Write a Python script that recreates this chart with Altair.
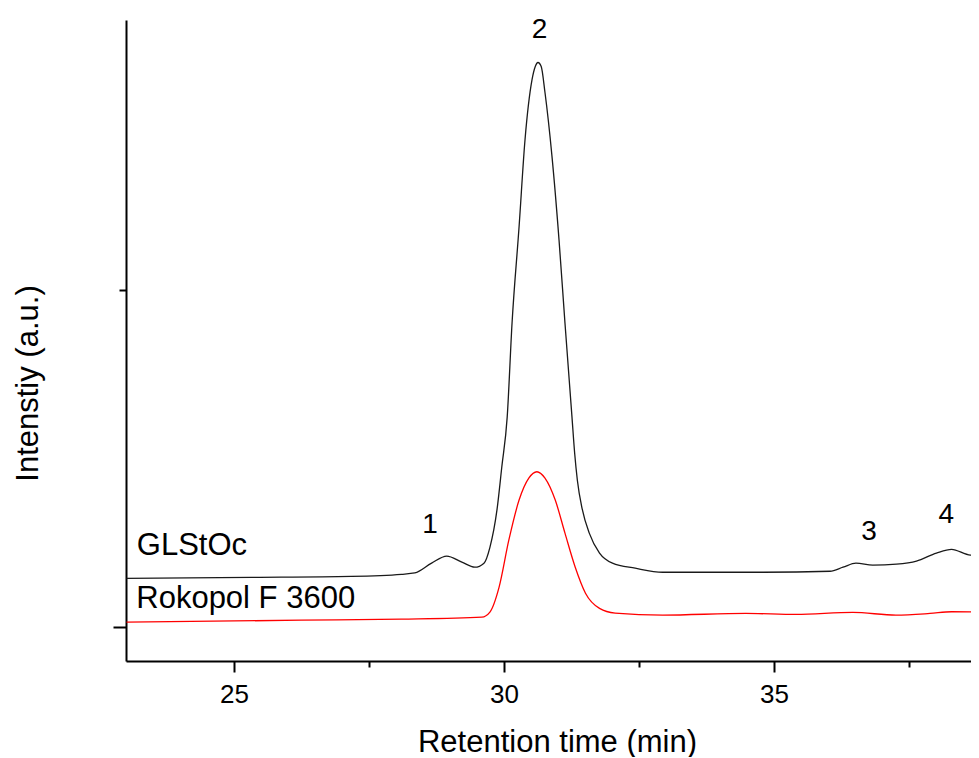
import altair as alt
import pandas as pd

# ---- data ----
glstoc_time = [23.01, 25.32, 27.17, 28.10, 28.35, 28.66, 28.94, 29.22, 29.46, 29.63, 29.74, 29.87,
               29.96, 30.06, 30.15, 30.28, 30.39, 30.52, 30.58, 30.63, 30.69, 30.76, 30.89, 31.02,
               31.13, 31.26, 31.31, 31.36, 31.45, 31.58, 31.77, 32.01, 32.43, 32.94, 34.18, 34.80, 36.04,
               36.28, 36.52, 36.83, 37.27, 37.64, 38.01, 38.29, 38.64, 38.87]
glstoc_int = [0.145, 0.148, 0.151, 0.157, 0.161, 0.190, 0.211, 0.193, 0.178, 0.190, 0.237, 0.347,
              0.475, 0.623, 0.902, 1.187, 1.445, 1.623, 1.662, 1.674, 1.662, 1.585, 1.395, 1.148,
              0.902, 0.623, 0.515, 0.435, 0.350, 0.279, 0.220, 0.190, 0.175, 0.163, 0.163, 0.163, 0.166,
              0.178, 0.190, 0.184, 0.187, 0.196, 0.220, 0.231, 0.214, 0.220]

rokopol_time = [23.01, 26.25, 28.10, 29.59, 29.74, 29.91, 30.09, 30.28, 30.46, 30.61, 30.76, 30.95,
                31.13, 31.32, 31.51, 31.77, 32.06, 32.94, 34.48, 35.41, 36.46, 37.26, 37.89, 38.29,
                38.87]
rokopol_int = [0.015, 0.021, 0.024, 0.030, 0.045, 0.119, 0.258, 0.377, 0.442, 0.461, 0.442, 0.377,
               0.279, 0.178, 0.101, 0.056, 0.042, 0.036, 0.041, 0.038, 0.044, 0.036, 0.041, 0.046,
               0.045]

series_names = ["GLStOc", "Rokopol F 3600"]
series_colors = ["#1a1a1a", "#ff0000"]
series_label_time = [23.20, 23.19]
series_label_int = [0.214, 0.056]

peak_labels = ["1", "2", "3", "4"]
peak_time = [28.63, 30.66, 36.76, 38.19]
peak_int = [0.279, 1.748, 0.258, 0.309]

x_ticks = [25, 27.5, 30, 32.5, 35, 37.5]
y_ticks = [0, 1]

FONT = "Liberation Sans"

lines_df = pd.concat([
    pd.DataFrame({"time": glstoc_time, "intensity": glstoc_int, "series": series_names[0]}),
    pd.DataFrame({"time": rokopol_time, "intensity": rokopol_int, "series": series_names[1]}),
])
series_df = pd.DataFrame({"name": series_names, "time": series_label_time, "intensity": series_label_int})
peaks_df = pd.DataFrame({"label": peak_labels, "time": peak_time, "intensity": peak_int})

x_scale = alt.Scale(domain=[23, 38.65], nice=False, zero=False)
y_scale = alt.Scale(domain=[-0.1, 1.8], nice=False, zero=False)

x_axis = alt.Axis(
    values=x_ticks,
    labelExpr="datum.value % 5 === 0 ? datum.label : ''",
    tickSize={"condition": {"test": "datum.value % 5 === 0", "value": 11}, "value": 6},
    tickWidth=2, tickColor="black", domainColor="black", domainWidth=2,
    labelFont=FONT, labelFontSize=26, labelColor="black", labelPadding=9,
    grid=False, title="Retention time (min)", titleFont=FONT, titleFontSize=31,
    titleFontWeight="normal", titleColor="black", titleX=431, titleY=90,
    titleBaseline="alphabetic", titleAlign="center",
)
y_axis = alt.Axis(
    values=y_ticks, labels=False,
    tickSize={"condition": {"test": "datum.value === 0", "value": 13}, "value": 7},
    tickWidth=2, tickColor="black", domainColor="black", domainWidth=2,
    grid=False, title="Intenstiy (a.u.)", titleFont=FONT, titleFontSize=31,
    titleFontWeight="normal", titleColor="black", titleAngle=270, titleX=-89, titleY=363,
    titleBaseline="alphabetic", titleAlign="center",
)

lines = alt.Chart(lines_df).mark_line(strokeWidth=1.3, interpolate="monotone", clip=True).encode(
    x=alt.X("time:Q", scale=x_scale, axis=x_axis),
    y=alt.Y("intensity:Q", scale=y_scale, axis=y_axis),
    color=alt.Color("series:N", scale=alt.Scale(domain=series_names, range=series_colors), legend=None),
    detail="series:N",
)

series_text = alt.Chart(series_df).mark_text(
    font=FONT, fontSize=31, align="left", baseline="alphabetic", color="black"
).encode(x="time:Q", y="intensity:Q", text="name:N")

peak_text = alt.Chart(peaks_df).mark_text(
    font=FONT, fontSize=28, align="center", baseline="alphabetic", color="black"
).encode(x="time:Q", y="intensity:Q", text="label:N")

chart = alt.layer(lines, series_text, peak_text).properties(
    width=845, height=641,
    autosize=alt.AutoSizeParams(type="none"),
    padding={"left": 118, "top": 12, "right": 0, "bottom": 96},
    background="white",
).configure_view(stroke=None)

chart.save("out.html", embed_options={"renderer": "svg", "actions": False})
